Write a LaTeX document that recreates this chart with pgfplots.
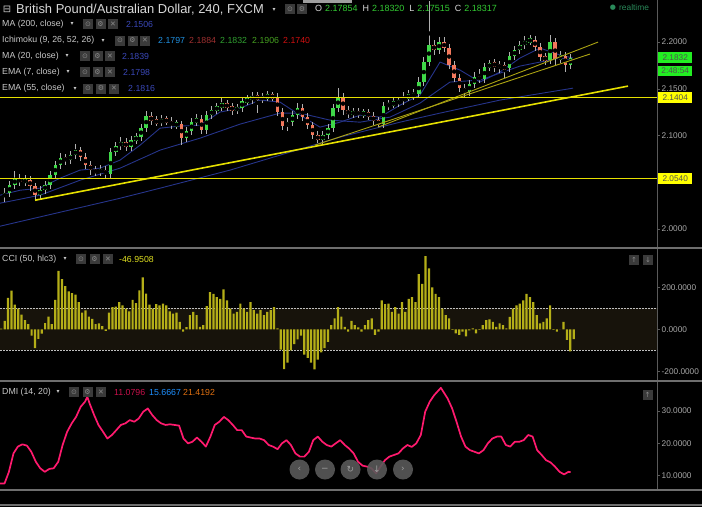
\documentclass[border=0pt]{standalone}
\usepackage{pgfplots}
\pgfplotsset{compat=1.18}
\usepackage{pgfplotstable}
\usepackage{fontspec}
\setmainfont{Liberation Sans}
\newfontfamily\sym{DejaVu Sans}

\definecolor{txt}{HTML}{C8C8C8}
\definecolor{ttl}{HTML}{D9D9D9}
\definecolor{axc}{HTML}{5A5A5A}
\definecolor{sepc}{HTML}{6E6E6E}
\definecolor{ticklab}{HTML}{A8A8A8}
\definecolor{upc}{HTML}{3FD848}
\definecolor{dnc}{HTML}{F2785C}
\definecolor{wick}{HTML}{B0B0B0}
\definecolor{navy}{HTML}{26348A}
\definecolor{maval}{HTML}{3A48B8}
\definecolor{ylw}{HTML}{E6E000}
\definecolor{ylwthin}{HTML}{ABA312}
\definecolor{ccibar}{HTML}{B4AE18}
\definecolor{cciband}{HTML}{17130B}
\definecolor{dmic}{HTML}{FF1A6E}
\definecolor{grn}{HTML}{33CC33}
\definecolor{icon}{HTML}{3A3A3A}
\definecolor{iconfg}{HTML}{8A8A8A}
\definecolor{tagg}{HTML}{22EE22}
\definecolor{tagy}{HTML}{FFFF00}
\definecolor{tagtxt}{HTML}{505050}
\definecolor{xlab}{HTML}{C0C0C0}
\definecolor{rtc}{HTML}{2A8A5A}
\definecolor{ichb}{HTML}{2090E0}
\definecolor{ichr}{HTML}{A03030}
\definecolor{ichg}{HTML}{30A030}
\definecolor{ichg2}{HTML}{45A020}
\definecolor{ichr2}{HTML}{D01010}
\definecolor{cciv}{HTML}{E0E020}
\definecolor{dmib}{HTML}{1E90FF}
\definecolor{dmio}{HTML}{E07010}
\definecolor{dmir}{HTML}{C8104A}

\newcommand{\lgd}{\fontsize{8.8}{10}\selectfont}
\newcommand{\icons}[3]{%
  \foreach \i/\g in {0/⊙,1/⚙,2/✕} {%
    \node[fill=icon, minimum size=10bp, inner sep=0pt, text=iconfg,
      font=\sym\fontsize{7}{7}\selectfont] at ({#1bp+\i*#3bp+5bp},-#2bp) {\g};}%
}
\newcommand{\tri}[2]{\node[text=txt, inner sep=0pt, font=\sym\fontsize{6}{6}\selectfont] at (#1bp,-#2bp) {▾};}

\pgfplotstableread{
b o h l c
-18 2.0340 2.0435 2.0293 2.0383
-15 2.0383 2.0517 2.0346 2.0469
-12 2.0469 2.0623 2.0430 2.0544
-9 2.0544 2.0590 2.0455 2.0501
-6 2.0501 2.0576 2.0458 2.0522
-3 2.0522 2.0565 2.0411 2.0458
0 2.0458 2.0495 2.0300 2.0362
3 2.0362 2.0461 2.0315 2.0415
6 2.0415 2.0515 2.0370 2.0469
9 2.0469 2.0623 2.0430 2.0576
12 2.0576 2.0730 2.0535 2.0683
15 2.0683 2.0815 2.0640 2.0758
18 2.0758 2.0806 2.0687 2.0737
21 2.0737 2.0837 2.0695 2.0790
24 2.0790 2.0911 2.0750 2.0844
27 2.0844 2.0880 2.0725 2.0769
30 2.0769 2.0810 2.0640 2.0683
33 2.0683 2.0725 2.0583 2.0630
36 2.0630 2.0676 2.0562 2.0608
39 2.0608 2.0680 2.0565 2.0630
42 2.0630 2.0671 2.0535 2.0587
45 2.0587 2.0865 2.0550 2.0822
48 2.0822 2.0933 2.0780 2.0886
51 2.0886 2.0980 2.0845 2.0929
54 2.0929 2.0970 2.0833 2.0876
57 2.0876 2.0997 2.0835 2.0951
60 2.0951 2.1030 2.0910 2.0983
63 2.0983 2.1125 2.0945 2.1079
66 2.1079 2.1265 2.1040 2.1208
69 2.1208 2.1254 2.1110 2.1154
72 2.1154 2.1205 2.1097 2.1143
75 2.1143 2.1222 2.1100 2.1165
78 2.1165 2.1211 2.1108 2.1154
81 2.1154 2.1195 2.1065 2.1111
84 2.1111 2.1168 2.1070 2.1122
87 2.1122 2.1160 2.0897 2.0972
90 2.0972 2.1093 2.0930 2.1047
93 2.1047 2.1190 2.1005 2.1143
96 2.1143 2.1233 2.1100 2.1176
99 2.1176 2.1215 2.1015 2.1058
102 2.1058 2.1265 2.1020 2.1218
105 2.1218 2.1318 2.1175 2.1272
108 2.1272 2.1350 2.1230 2.1304
111 2.1304 2.1400 2.1265 2.1336
114 2.1336 2.1383 2.1260 2.1304
117 2.1304 2.1345 2.1225 2.1272
120 2.1272 2.1340 2.1230 2.1293
123 2.1293 2.1415 2.1255 2.1368
126 2.1368 2.1436 2.1325 2.1379
129 2.1379 2.1468 2.1337 2.1422
132 2.1422 2.1461 2.1240 2.1390
135 2.1390 2.1458 2.1345 2.1411
138 2.1411 2.1475 2.1370 2.1422
141 2.1422 2.1465 2.1365 2.1411
144 2.1411 2.1450 2.1205 2.1251
147 2.1251 2.1290 2.1055 2.1101
150 2.1101 2.1190 2.1045 2.1143
153 2.1143 2.1265 2.1100 2.1218
156 2.1218 2.1350 2.1175 2.1293
159 2.1293 2.1333 2.1155 2.1197
162 2.1197 2.1240 2.1065 2.1111
165 2.1111 2.1150 2.0960 2.1004
168 2.1004 2.1045 2.0919 2.0951
171 2.0951 2.1050 2.0910 2.1004
174 2.1004 2.1125 2.0965 2.1079
177 2.1079 2.1340 2.1040 2.1293
180 2.1293 2.1507 2.1255 2.1411
183 2.1411 2.1450 2.1225 2.1272
186 2.1272 2.1315 2.1183 2.1229
189 2.1229 2.1300 2.1185 2.1251
192 2.1251 2.1293 2.1187 2.1229
195 2.1229 2.1287 2.1190 2.1240
198 2.1240 2.1280 2.1165 2.1208
201 2.1208 2.1250 2.1110 2.1154
204 2.1154 2.1195 2.1090 2.1122
207 2.1122 2.1361 2.1085 2.1315
210 2.1315 2.1383 2.1275 2.1336
213 2.1336 2.1405 2.1295 2.1347
216 2.1347 2.1415 2.1305 2.1368
219 2.1368 2.1468 2.1325 2.1411
222 2.1411 2.1490 2.1370 2.1422
225 2.1422 2.1500 2.1380 2.1443
228 2.1443 2.1625 2.1405 2.1572
231 2.1572 2.1835 2.1530 2.1786
234 2.1786 2.2440 2.1745 2.1968
237 2.1968 2.2025 2.1865 2.1914
240 2.1914 2.2055 2.1875 2.2000
243 2.2000 2.2050 2.1890 2.1936
246 2.1936 2.1975 2.1710 2.1754
249 2.1754 2.1795 2.1570 2.1615
252 2.1615 2.1655 2.1465 2.1507
255 2.1507 2.1550 2.1411 2.1465
258 2.1465 2.1597 2.1425 2.1550
261 2.1550 2.1675 2.1510 2.1625
264 2.1625 2.1715 2.1560 2.1604
267 2.1604 2.1780 2.1565 2.1732
270 2.1732 2.1811 2.1690 2.1764
273 2.1764 2.1815 2.1675 2.1754
276 2.1754 2.1800 2.1665 2.1732
279 2.1732 2.1785 2.1615 2.1722
282 2.1722 2.1897 2.1680 2.1850
285 2.1850 2.1961 2.1810 2.1914
288 2.1914 2.2015 2.1875 2.1968
291 2.1968 2.2065 2.1925 2.2011
294 2.2011 2.2075 2.1970 2.2021
297 2.2021 2.2065 2.1905 2.1946
300 2.1946 2.1985 2.1795 2.1839
303 2.1839 2.1885 2.1760 2.1807
306 2.1807 2.2075 2.1765 2.2000
309 2.2000 2.2040 2.1740 2.1818
312 2.1818 2.1905 2.1775 2.1850
315 2.1850 2.1895 2.1679 2.1754
318 2.1754 2.1875 2.1715 2.1832
}\candles

\pgfplotstableread{
b v
-20.8 2.0030
25.0 2.0222
50.5 2.0329
74.3 2.0437
115.8 2.0630
145.5 2.0790
181.2 2.0983
216.8 2.1143
240.6 2.1240
276.2 2.1379
319.6 2.1507
}\maTwoHundred

\pgfplotstableread{
b v
-20.8 2.0276
3.0 2.0362
26.7 2.0522
50.5 2.0651
74.3 2.0844
98.0 2.0972
121.8 2.1122
145.5 2.1240
157.4 2.1240
175.2 2.1165
193.1 2.1143
210.9 2.1197
228.7 2.1347
246.5 2.1572
264.4 2.1593
288.1 2.1743
311.9 2.1829
319.6 2.1807
}\emaFiftyFive

\pgfplotstableread{
b v
-20.8 2.0362
-8.9 2.0415
3.0 2.0437
14.9 2.0544
26.7 2.0630
38.6 2.0651
50.5 2.0737
62.4 2.0897
74.3 2.1079
86.1 2.1101
98.0 2.1111
109.9 2.1251
121.8 2.1293
133.7 2.1379
145.5 2.1358
157.4 2.1218
169.3 2.1090
181.2 2.1143
193.1 2.1218
205.0 2.1197
216.8 2.1325
228.7 2.1433
240.6 2.1786
252.5 2.1700
264.4 2.1572
276.2 2.1679
288.1 2.1829
300.0 2.1936
311.9 2.1861
319.6 2.1829
}\maTwenty

\pgfplotstableread{
b v
-20 3
-18 40
-16 150
-14 184
-12 118
-10 98
-8 70
-6 44
-4 25
-2 -30
0 -89
2 -45
4 -20
6 30
8 60
10 25
12 140
14 278
16 239
18 205
20 180
22 172
24 165
26 130
28 80
30 90
32 60
34 50
36 25
38 28
40 15
42 -8
44 80
46 106
48 108
50 130
52 114
54 98
56 85
58 140
60 125
62 185
64 247
66 170
68 118
70 98
72 120
74 114
76 122
78 114
80 85
82 75
84 80
86 36
88 -11
90 10
92 67
94 83
96 67
98 12
100 20
102 110
104 177
106 169
108 153
110 145
112 190
114 138
116 98
118 75
120 83
122 122
124 98
126 83
128 130
130 91
132 75
134 91
136 67
138 83
140 91
142 106
144 5
146 -97
148 -190
150 -159
152 -100
154 -70
156 -48
158 -30
160 -120
162 -136
164 -159
166 -191
168 -144
170 -110
172 -89
174 -60
176 20
178 52
180 106
182 60
184 12
186 -11
188 40
190 20
192 9
194 -11
196 20
198 44
200 52
202 -27
204 -11
206 138
208 120
210 122
212 83
214 106
216 75
218 130
220 83
222 145
224 153
226 130
228 263
230 216
232 348
234 290
236 200
238 169
240 153
242 98
244 67
246 52
248 -3
250 -19
252 -27
254 -11
256 -34
258 -5
260 5
262 -19
264 -3
266 20
268 44
270 47
272 36
274 12
276 28
278 20
280 5
282 59
284 98
286 114
288 122
290 138
292 169
294 153
296 130
298 67
300 28
302 36
304 52
306 114
308 -3
310 -11
312 0
314 36
316 -50
318 -105
320 -47
}\cci

\pgfplotstableread{
b v
-20.8 7.6
-18.1 7.6
-15.5 11.2
-12.8 16.9
-10.2 19.0
-7.5 19.7
-4.8 19.3
-2.2 17.4
0.5 14.3
3.1 12.3
5.8 11.2
8.5 12.1
11.1 12.3
13.8 14.3
16.4 19.5
19.1 23.6
21.8 26.2
24.4 28.2
27.1 31.3
29.7 32.9
31.1 34.4
32.4 32.4
35.1 28.8
37.7 25.7
40.4 23.6
43.0 21.5
45.7 22.6
48.3 24.1
51.0 25.7
53.7 26.2
56.3 27.2
59.0 26.7
61.6 27.7
64.3 29.8
67.0 30.8
69.6 28.8
72.3 27.2
74.9 26.2
77.6 25.7
80.2 25.9
82.9 25.7
85.6 25.5
88.2 21.5
90.9 20.0
93.5 20.5
96.2 21.8
98.9 20.5
101.5 19.0
104.2 22.1
106.8 25.7
109.5 26.7
112.2 28.2
114.8 27.2
117.5 25.7
120.1 24.1
122.8 24.1
125.5 22.1
128.1 21.8
130.8 21.5
133.4 21.5
136.1 21.0
138.8 19.5
141.4 19.0
144.1 18.2
146.7 20.0
149.4 21.0
152.0 19.5
154.7 16.9
157.4 15.9
160.0 15.9
162.7 17.4
165.3 21.0
168.0 22.1
170.7 20.5
173.3 19.5
176.0 19.0
178.6 20.0
181.3 21.0
184.0 19.5
186.6 18.4
189.3 16.9
191.9 14.3
194.6 13.1
197.3 12.8
199.9 12.3
202.6 10.7
205.2 12.8
207.9 14.8
210.5 15.9
213.2 16.4
215.9 16.9
218.5 18.4
221.2 19.5
223.8 18.9
226.5 20.0
229.2 22.6
231.8 29.8
234.5 32.9
237.1 34.9
241.1 37.2
245.1 33.9
247.8 30.8
250.4 26.7
253.1 22.1
255.7 19.0
258.4 17.9
261.1 17.4
263.7 16.9
266.4 17.9
269.0 20.0
271.7 21.5
274.4 22.1
277.0 22.1
279.7 19.5
282.3 19.0
285.0 20.5
287.7 20.5
290.3 21.0
293.0 22.6
295.6 22.1
298.3 17.9
301.0 16.4
303.6 14.8
306.3 14.1
308.9 12.8
311.6 11.2
314.3 10.4
316.9 11.2
318.2 11.1
}\dmi

\pgfplotsset{
  panel/.style={
    scale only axis, width=657bp, xmin=-20.8, xmax=369.5,
    anchor=north west,
    axis x line=none, axis y line*=right,
    axis line style={draw=axc, line width=0.6bp},
    tick align=outside, major tick length=3bp,
    ytick style={draw=axc, line width=0.5bp},
    clip mode=individual,
    /pgf/number format/assume math mode=true,
    yticklabel style={font=\fontsize{8.3}{9}\selectfont, text=ticklab, inner sep=1.5bp,
      /pgf/number format/.cd, fixed, fixed zerofill, precision=4},
  }
}

\begin{document}
\begin{tikzpicture}
\fill[black] (0,0) rectangle (702bp,-507bp);

% ---------------- price panel
\begin{axis}[panel, at={(0,0)}, height=248bp, ymin=1.9797, ymax=2.245,
  ytick={2.0,2.1,2.15,2.2}]
\addplot[navy, line width=0.9bp] table[x=b, y=v] {\maTwoHundred};
\addplot[navy, line width=0.9bp] table[x=b, y=v] {\emaFiftyFive};
\addplot[navy, line width=0.9bp] table[x=b, y=v] {\maTwenty};
% wicks
\addplot[only marks, mark=none, error bars/.cd, y dir=both, y explicit, error mark=none,
  error bar style={draw=wick, line width=0.8bp}]
  table[x=b, y expr={(\thisrow{h}+\thisrow{l})/2}, y error expr={(\thisrow{h}-\thisrow{l})/2}] {\candles};
% up bodies
\addplot[only marks, mark=none, restrict expr to domain={\thisrow{c}-\thisrow{o}}{0:1},
  error bars/.cd, y dir=both, y explicit, error mark=none,
  error bar style={draw=upc, line width=3.4bp, line cap=butt}]
  table[x=b, y expr={(\thisrow{o}+\thisrow{c})/2}, y error expr={max(abs(\thisrow{c}-\thisrow{o})/2,0.0024)}] {\candles};
% down bodies
\addplot[only marks, mark=none, restrict expr to domain={\thisrow{c}-\thisrow{o}}{-1:-0.00001},
  error bars/.cd, y dir=both, y explicit, error mark=none,
  error bar style={draw=dnc, line width=3.4bp, line cap=butt}]
  table[x=b, y expr={(\thisrow{o}+\thisrow{c})/2}, y error expr={max(abs(\thisrow{c}-\thisrow{o})/2,0.0024)}] {\candles};
% trend lines and levels
\addplot[ylwthin, line width=0.9bp] coordinates {(203.8,2.1090) (334.5,2.2000)};
\addplot[ylwthin, line width=0.9bp] coordinates {(166.3,2.0897) (329.7,2.1872)};
\addplot[ylw, line width=1.6bp] coordinates {(0,2.0308) (352.3,2.1529)};
\addplot[ylw, line width=1.3bp] coordinates {(-20.8,2.1404) (369.5,2.1404)};
\addplot[ylw, line width=1.3bp] coordinates {(-20.8,2.0540) (369.5,2.0540)};
% price tags
\node[fill=tagg, text=tagtxt, anchor=west, minimum width=34bp, minimum height=11bp, inner sep=0pt,
  font=\fontsize{8.3}{9}\selectfont, xshift=1bp] at (axis cs:369.5,2.1832) {2.1832};
\node[fill=tagg, text=tagtxt, anchor=west, minimum width=34bp, minimum height=10bp, inner sep=0pt,
  font=\fontsize{8.3}{9}\selectfont, xshift=1bp, yshift=-13bp] at (axis cs:369.5,2.1832) {2:48:54};
\node[fill=tagy, text=tagtxt, anchor=west, minimum width=34bp, minimum height=11bp, inner sep=0pt,
  font=\fontsize{8.3}{9}\selectfont, xshift=1bp] at (axis cs:369.5,2.1404) {2.1404};
\node[fill=tagy, text=tagtxt, anchor=west, minimum width=34bp, minimum height=11bp, inner sep=0pt,
  font=\fontsize{8.3}{9}\selectfont, xshift=1bp] at (axis cs:369.5,2.0540) {2.0540};
\end{axis}

% ---------------- CCI panel
\begin{axis}[panel, at={(0,-248bp)}, height=133bp, ymin=-246, ymax=387,
  ytick={-200,0,200}]
\fill[cciband] (axis cs:-20.8,-100) rectangle (axis cs:369.5,100);
\draw[white!75!black, line width=0.5bp, dash pattern=on 1.6bp off 1.4bp] (axis cs:-20.8,100) -- (axis cs:369.5,100);
\draw[white!75!black, line width=0.5bp, dash pattern=on 1.6bp off 1.4bp] (axis cs:-20.8,-100) -- (axis cs:369.5,-100);
\addplot[ybar, bar width=2.2bp, fill=ccibar, draw=none] table[x=b, y=v] {\cci};
\end{axis}

% ---------------- DMI panel
\begin{axis}[panel, at={(0,-381bp)}, height=109bp, ymin=5.57, ymax=39.3,
  ytick={10,20,30},
  axis x line*=bottom,
  xtick={0,48,84,138,198,264,318,354},
  xticklabels={Jul,13,21,Aug,17,Sep,14,22},
  xtick style={draw=none},
  xticklabel style={font=\bfseries\fontsize{7.8}{9}\selectfont, text=xlab, inner sep=1bp}]
\addplot[dmic, line width=1.7bp, line join=round] table[x=b, y=v] {\dmi};
\end{axis}

% ---------------- separators
\foreach \yy in {248,381,490,505} {\draw[sepc, line width=1.1bp] (0,-\yy bp) -- (702bp,-\yy bp);}
\fill[white!62!black] (303bp,0) rectangle (352bp,-3bp);

% ---------------- header
\node[text=txt, inner sep=0pt, font=\sym\fontsize{10}{10}\selectfont] at (7bp,-9.5bp) {⊟};
\node[anchor=west, inner sep=0pt, text=ttl, font=\fontsize{13}{15}\selectfont] at (16bp,-9.5bp) {British Pound/Australian Dollar, 240, FXCM};
\tri{274}{9.5}
\foreach \i/\g in {0/⊙,1/⚙} {\node[fill=icon, minimum size=10bp, inner sep=0pt, text=iconfg,
  font=\sym\fontsize{7}{7}\selectfont] at ({285bp+\i*12bp+5bp},-9bp) {\g};}
\node[anchor=west, inner sep=0pt, font=\fontsize{9}{11}\selectfont] at (315bp,-8.5bp)
 {\textcolor{ttl}{O}\hspace{3bp}\textcolor{grn}{2.17854}\hspace{5bp}\textcolor{ttl}{H}\hspace{3bp}\textcolor{grn}{2.18320}\hspace{5bp}\textcolor{ttl}{L}\hspace{3bp}\textcolor{grn}{2.17515}\hspace{5bp}\textcolor{ttl}{C}\hspace{3bp}\textcolor{grn}{2.18317}};
\node[text=rtc, inner sep=0pt, font=\sym\fontsize{7}{7}\selectfont] at (613bp,-8bp) {●};
\node[anchor=west, inner sep=0pt, text=rtc, font=\fontsize{8.4}{10}\selectfont] at (619bp,-8bp) {realtime};

% legend rows
\node[anchor=west, inner sep=0pt, text=txt, font=\lgd] at (2bp,-24bp) {MA (200, close)};
\tri{72}{24}\icons{83}{24}{12.5}
\node[anchor=west, inner sep=0pt, text=maval, font=\lgd] at (126bp,-24bp) {2.1506};

\node[anchor=west, inner sep=0pt, text=txt, font=\lgd] at (2bp,-40.5bp) {Ichimoku (9, 26, 52, 26)};
\tri{103}{40.5}\icons{115}{40.5}{12.5}
\node[anchor=west, inner sep=0pt, text=ichb, font=\lgd] at (158bp,-40.5bp) {2.1797};
\node[anchor=west, inner sep=0pt, text=ichr, font=\lgd] at (189bp,-40.5bp) {2.1884};
\node[anchor=west, inner sep=0pt, text=ichg, font=\lgd] at (220bp,-40.5bp) {2.1832};
\node[anchor=west, inner sep=0pt, text=ichg2, font=\lgd] at (252bp,-40.5bp) {2.1906};
\node[anchor=west, inner sep=0pt, text=ichr2, font=\lgd] at (283bp,-40.5bp) {2.1740};

\node[anchor=west, inner sep=0pt, text=txt, font=\lgd] at (2bp,-56bp) {MA (20, close)};
\tri{67}{56}\icons{80}{56}{12.5}
\node[anchor=west, inner sep=0pt, text=maval, font=\lgd] at (122bp,-56bp) {2.1839};

\node[anchor=west, inner sep=0pt, text=txt, font=\lgd] at (2bp,-72bp) {EMA (7, close)};
\tri{68}{72}\icons{80}{72}{12.5}
\node[anchor=west, inner sep=0pt, text=maval, font=\lgd] at (123bp,-72bp) {2.1798};

\node[anchor=west, inner sep=0pt, text=txt, font=\lgd] at (2bp,-88.5bp) {EMA (55, close)};
\tri{75}{88.5}\icons{83}{88.5}{13}
\node[anchor=west, inner sep=0pt, text=maval, font=\lgd] at (128bp,-88.5bp) {2.1816};

% CCI legend
\node[anchor=west, inner sep=0pt, text=txt, font=\lgd] at (2bp,-259bp) {CCI (50, hlc3)};
\tri{65}{259}\icons{76}{259}{13.5}
\node[anchor=west, inner sep=0pt, text=cciv, font=\lgd] at (119bp,-259bp) {-46.9508};
\node[fill=icon, minimum size=10bp, inner sep=0pt, text=iconfg, font=\sym\fontsize{7}{7}\selectfont] at (634bp,-260bp) {↑};
\node[fill=icon, minimum size=10bp, inner sep=0pt, text=iconfg, font=\sym\fontsize{7}{7}\selectfont] at (648bp,-260bp) {↓};

% DMI legend
\node[anchor=west, inner sep=0pt, text=txt, font=\lgd] at (2bp,-392bp) {DMI (14, 20)};
\tri{58}{392}\icons{69}{392}{13.5}
\node[anchor=west, inner sep=0pt, text=dmir, font=\lgd] at (114bp,-392bp) {11.0796};
\node[anchor=west, inner sep=0pt, text=dmib, font=\lgd] at (149bp,-392bp) {15.6667};
\node[anchor=west, inner sep=0pt, text=dmio, font=\lgd] at (183bp,-392bp) {21.4192};
\node[fill=icon, minimum size=10bp, inner sep=0pt, text=iconfg, font=\sym\fontsize{7}{7}\selectfont] at (647.5bp,-394.5bp) {↑};

% navigation buttons
\foreach \cx/\g in {299.5/‹,325/−,350.5/↻,377/↓,403/›} {
  \fill[white!35!black, opacity=0.9] (\cx bp,-469.5bp) circle (10bp);
  \node[text=white!62!black, font=\sym\fontsize{9}{9}\selectfont] at (\cx bp,-469.5bp) {\g};
}

\pgfresetboundingbox
\path[use as bounding box] (0,0) rectangle (702bp,-507bp);
\end{tikzpicture}
\end{document}
